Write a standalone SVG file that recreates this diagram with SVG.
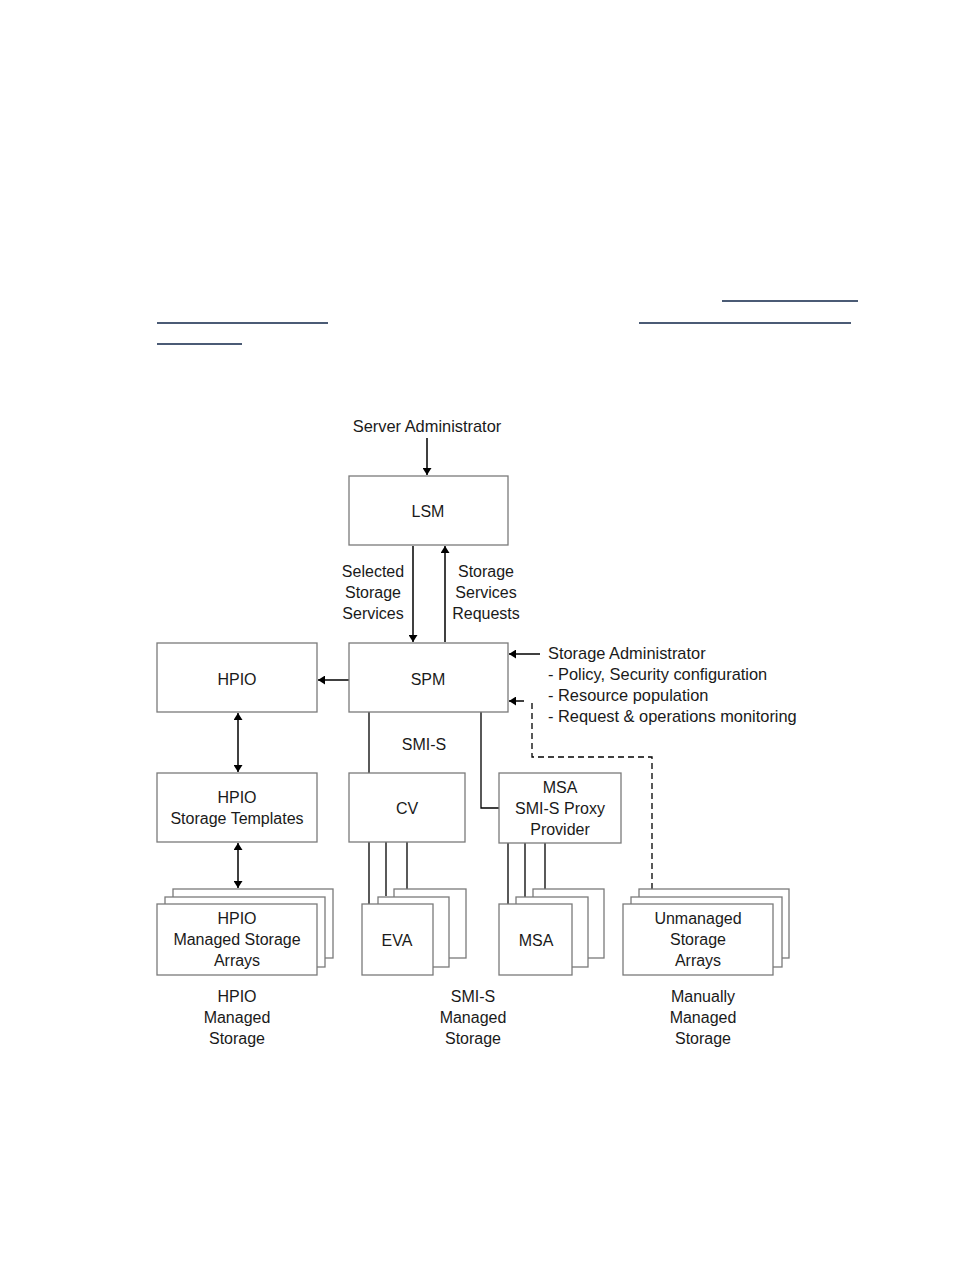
<svg xmlns="http://www.w3.org/2000/svg" width="954" height="1270" viewBox="0 0 954 1270">
<defs>
<marker id="ah" viewBox="0 0 10 10" refX="10" refY="5" markerWidth="7" markerHeight="9" markerUnits="userSpaceOnUse" orient="auto-start-reverse" preserveAspectRatio="none">
<path d="M0,0 L10,5 L0,10 Z" fill="#000"/>
</marker>
<style>
.box{fill:#fff;stroke:#7a7a7a;stroke-width:1.3}
.t{font-family:"Liberation Sans",Arial,sans-serif;font-size:16px;fill:#1a1a1a;text-anchor:middle}
.tl{font-family:"Liberation Sans",Arial,sans-serif;font-size:16.4px;fill:#1a1a1a}
.c{fill:none;stroke:#000;stroke-width:1.3}
.a{fill:none;stroke:#000;stroke-width:1.5;marker-end:url(#ah)}
.aa{fill:none;stroke:#000;stroke-width:1.5;marker-end:url(#ah);marker-start:url(#ah)}
.d{fill:none;stroke:#000;stroke-width:1.3;stroke-dasharray:6,4}
.link{stroke:#0f2547;stroke-width:1.7}
</style>
</defs>
<rect width="954" height="1270" fill="#fff"/>
<g id="links">
<line class="link" x1="722" y1="301" x2="858" y2="301"/>
<line class="link" x1="157" y1="323" x2="328" y2="323"/>
<line class="link" x1="639" y1="323" x2="851" y2="323"/>
<line class="link" x1="157" y1="344" x2="242" y2="344"/>
</g>
<g id="connectors">
<line class="a" x1="427" y1="438" x2="427" y2="475"/>
<line class="a" x1="413" y1="546" x2="413" y2="642"/>
<line class="a" x1="445" y1="642" x2="445" y2="546"/>
<line class="a" x1="349" y1="680" x2="318" y2="680"/>
<line class="aa" x1="238" y1="713" x2="238" y2="772"/>
<line class="aa" x1="238" y1="843" x2="238" y2="888"/>
<line class="a" x1="540" y1="654" x2="509" y2="654"/>
<polyline class="d" points="652,889 652,757 532,757 532,701"/>
<line class="a" x1="524" y1="701" x2="509" y2="701"/>
<line class="c" x1="369" y1="712" x2="369" y2="773"/>
<polyline class="c" points="481,712 481,808 499,808"/>
<line class="c" x1="369" y1="842" x2="369" y2="904"/>
<line class="c" x1="386" y1="842" x2="386" y2="896"/>
<line class="c" x1="407" y1="842" x2="407" y2="889"/>
<line class="c" x1="508" y1="843" x2="508" y2="904"/>
<line class="c" x1="525" y1="843" x2="525" y2="897"/>
<line class="c" x1="545" y1="843" x2="545" y2="889"/>
</g>
<g id="server-admin"><text class="t" x="427" y="432" style="font-size:16.4px">Server Administrator</text></g>
<g id="lsm">
<rect class="box" x="349" y="476" width="159" height="69"/>
<text class="t" x="428" y="517">LSM</text>
</g>
<g id="label-selected">
<text class="t" x="373" y="577">Selected</text>
<text class="t" x="373" y="598">Storage</text>
<text class="t" x="373" y="619">Services</text>
</g>
<g id="label-requests">
<text class="t" x="486" y="577">Storage</text>
<text class="t" x="486" y="598">Services</text>
<text class="t" x="486" y="619">Requests</text>
</g>
<g id="spm">
<rect class="box" x="349" y="643" width="159" height="69"/>
<text class="t" x="428" y="685">SPM</text>
</g>
<g id="hpio">
<rect class="box" x="157" y="643" width="160" height="69"/>
<text class="t" x="237" y="685">HPIO</text>
</g>
<g id="storage-admin">
<text class="tl" x="548" y="659">Storage Administrator</text>
<text class="tl" x="548" y="680">- Policy, Security configuration</text>
<text class="tl" x="548" y="701">- Resource population</text>
<text class="tl" x="548" y="722">- Request &amp; operations monitoring</text>
</g>
<g id="smis-label"><text class="t" x="424" y="750">SMI-S</text></g>
<g id="hpio-templates">
<rect class="box" x="157" y="773" width="160" height="69"/>
<text class="t" x="237" y="803">HPIO</text>
<text class="t" x="237" y="824">Storage Templates</text>
</g>
<g id="cv">
<rect class="box" x="349" y="773" width="116" height="69"/>
<text class="t" x="407" y="814">CV</text>
</g>
<g id="msa-proxy">
<rect class="box" x="499" y="773" width="122" height="70"/>
<text class="t" x="560" y="793">MSA</text>
<text class="t" x="560" y="814">SMI-S Proxy</text>
<text class="t" x="560" y="835">Provider</text>
</g>
<g id="hpio-arrays">
<rect class="box" x="173" y="889" width="160" height="69"/>
<rect class="box" x="165" y="897" width="160" height="70"/>
<rect class="box" x="157" y="904" width="160" height="71"/>
<text class="t" x="237" y="924">HPIO</text>
<text class="t" x="237" y="945">Managed Storage</text>
<text class="t" x="237" y="966">Arrays</text>
</g>
<g id="eva">
<rect class="box" x="394" y="889" width="72" height="69"/>
<rect class="box" x="378" y="897" width="71" height="70"/>
<rect class="box" x="362" y="904" width="71" height="71"/>
<text class="t" x="397" y="946">EVA</text>
</g>
<g id="msa">
<rect class="box" x="533" y="889" width="71" height="69"/>
<rect class="box" x="516" y="897" width="72" height="70"/>
<rect class="box" x="499" y="904" width="73" height="71"/>
<text class="t" x="536" y="946">MSA</text>
</g>
<g id="unmanaged">
<rect class="box" x="639" y="889" width="150" height="69"/>
<rect class="box" x="631" y="897" width="151" height="70"/>
<rect class="box" x="623" y="904" width="150" height="71"/>
<text class="t" x="698" y="924">Unmanaged</text>
<text class="t" x="698" y="945">Storage</text>
<text class="t" x="698" y="966">Arrays</text>
</g>
<g id="caption-hpio">
<text class="t" x="237" y="1002">HPIO</text>
<text class="t" x="237" y="1023">Managed</text>
<text class="t" x="237" y="1044">Storage</text>
</g>
<g id="caption-smis">
<text class="t" x="473" y="1002">SMI-S</text>
<text class="t" x="473" y="1023">Managed</text>
<text class="t" x="473" y="1044">Storage</text>
</g>
<g id="caption-manual">
<text class="t" x="703" y="1002">Manually</text>
<text class="t" x="703" y="1023">Managed</text>
<text class="t" x="703" y="1044">Storage</text>
</g>
</svg>
